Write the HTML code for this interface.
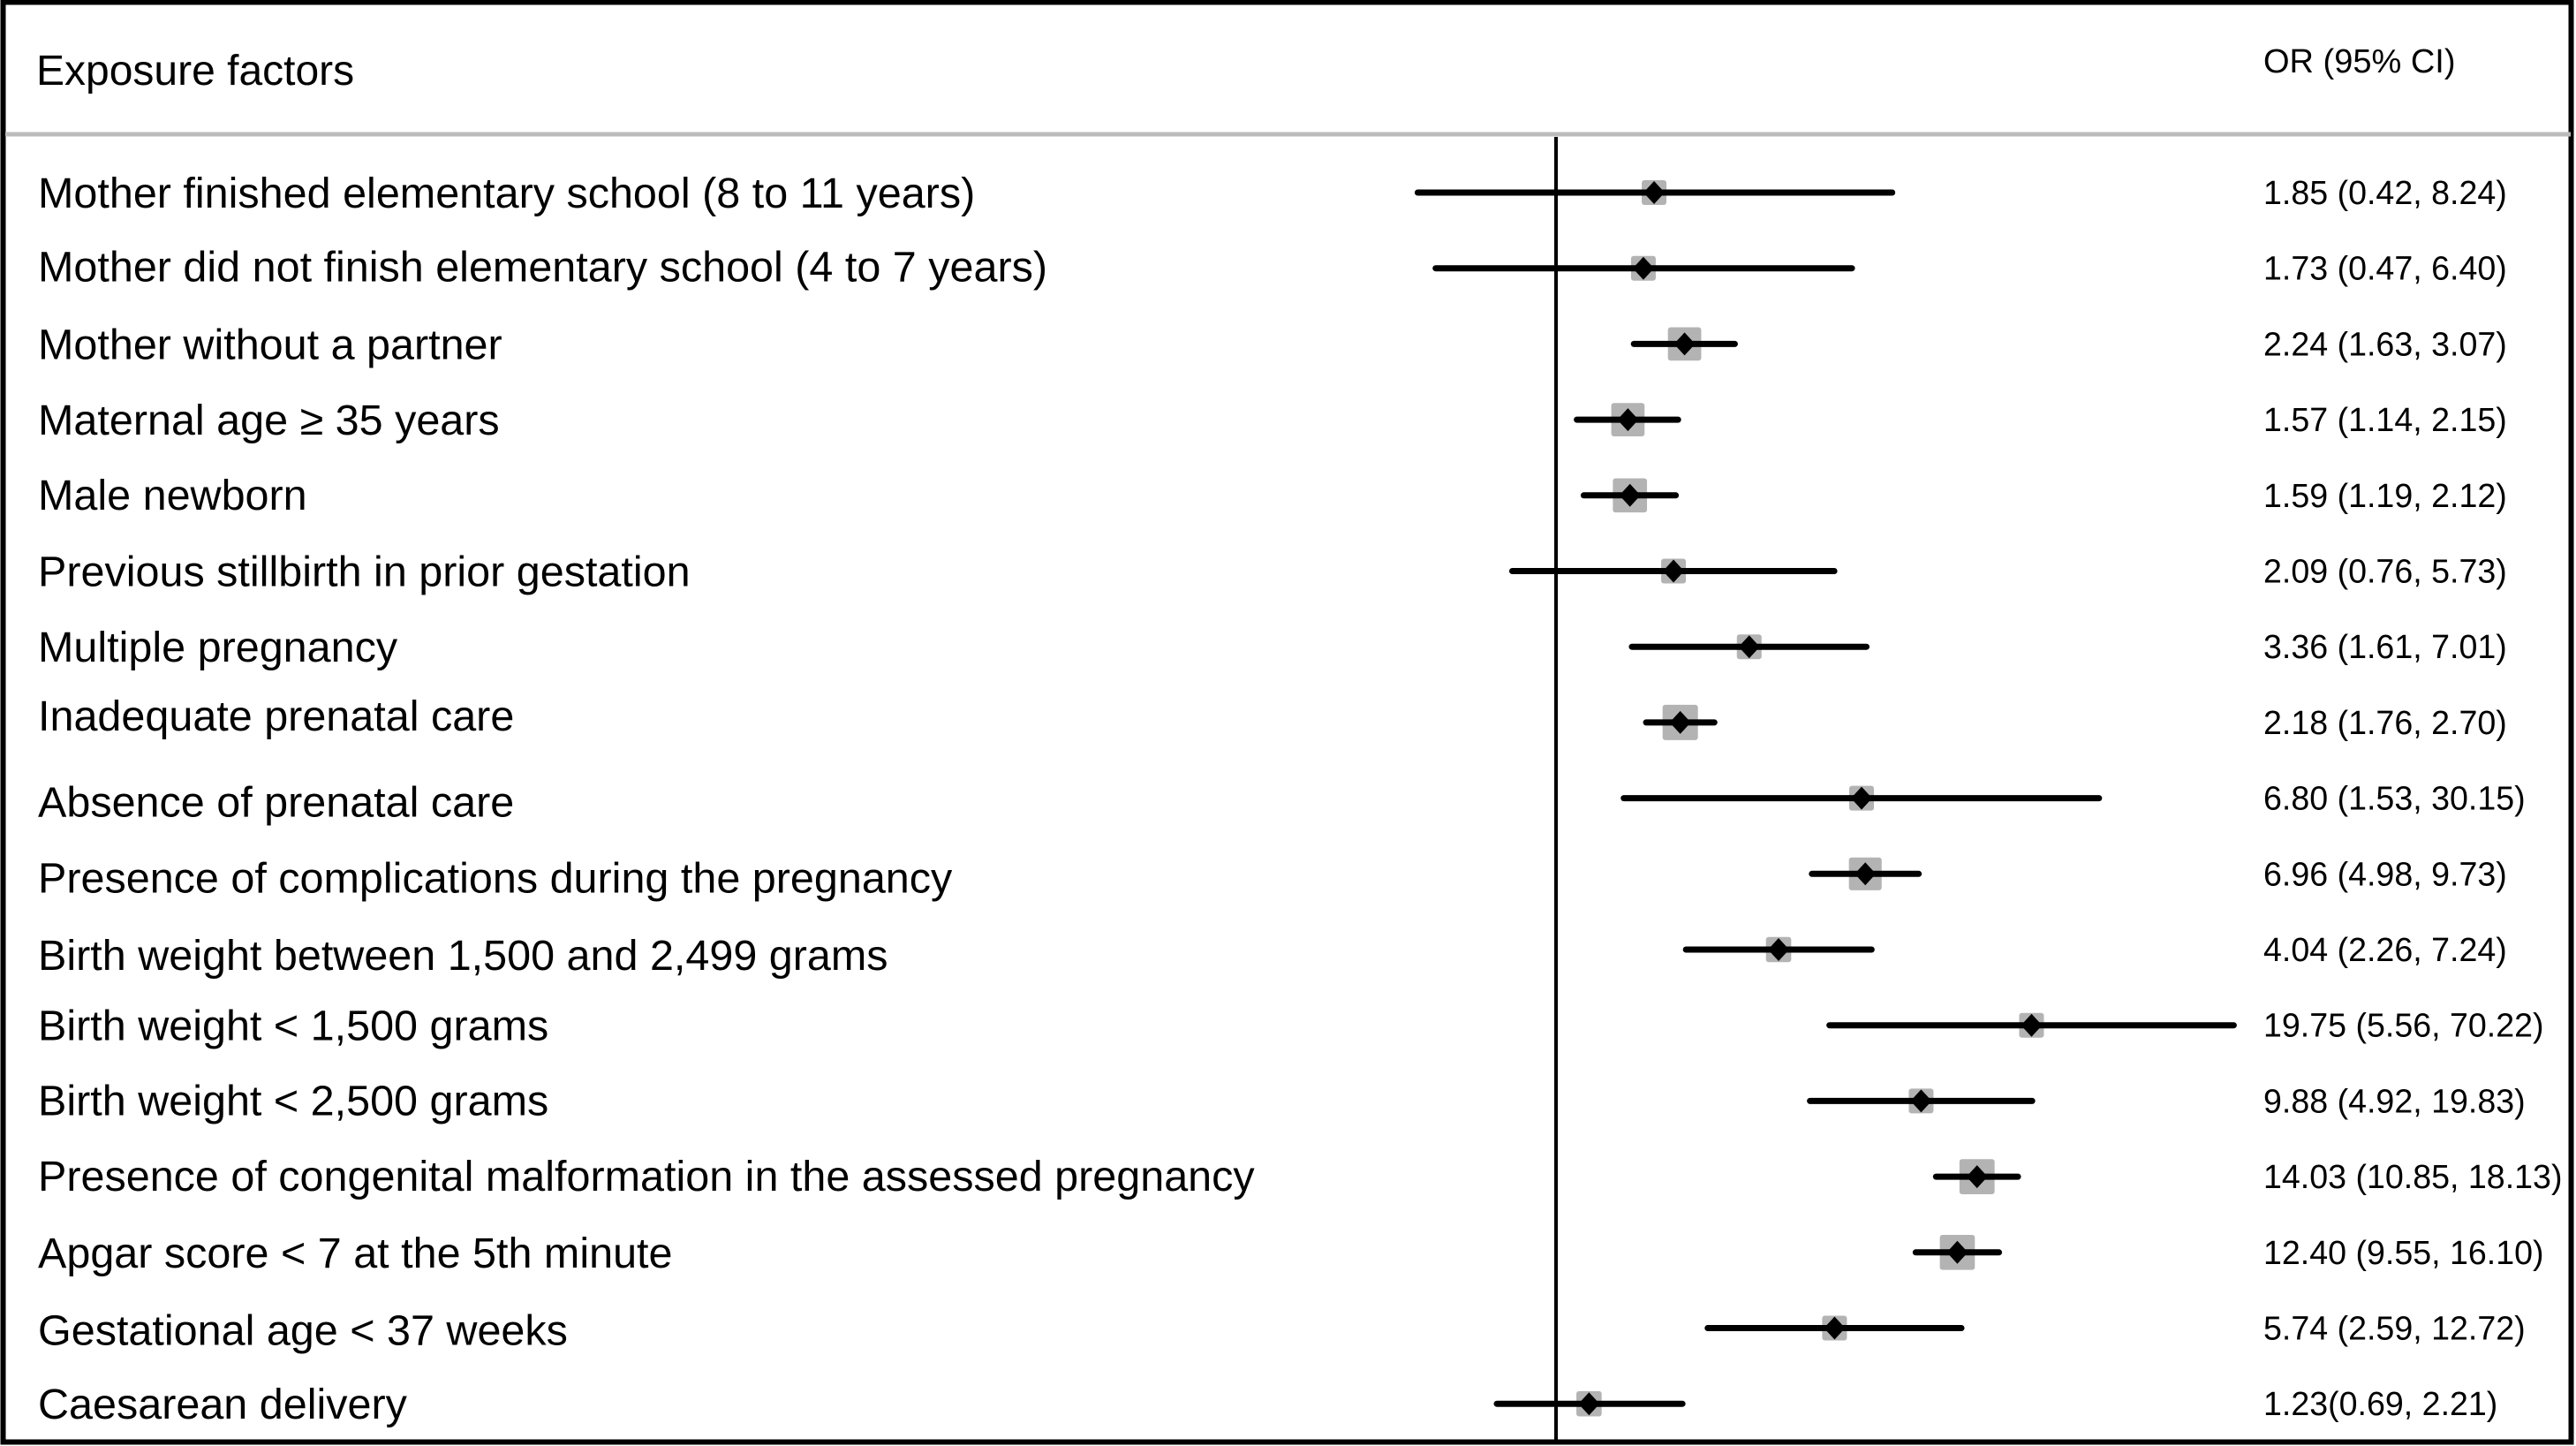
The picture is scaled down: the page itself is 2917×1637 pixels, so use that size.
<!DOCTYPE html>
<html><head><meta charset="utf-8"><style>
html,body{margin:0;padding:0;background:#fff;}
svg{display:block;}
text{font-family:"Liberation Sans",Arial,sans-serif;fill:#000;}
</style></head><body>
<svg id="chart" width="2917" height="1637" viewBox="0 0 2917 1637" xmlns="http://www.w3.org/2000/svg">
<rect x="3.5" y="2.5" width="2908" height="1630" fill="#fff" stroke="#000" stroke-width="6"/>
<line x1="6" y1="152" x2="2911" y2="152" stroke="#bbb" stroke-width="5"/>
<text x="41" y="96" font-size="48">Exposure factors</text>
<text x="2563" y="82" font-size="38">OR (95% CI)</text>
<g id="marks"></g>
</svg>
<script>
const labels=["Mother finished elementary school (8 to 11 years)","Mother did not finish elementary school (4 to 7 years)","Mother without a partner","Maternal age \u2265 35 years","Male newborn","Previous stillbirth in prior gestation","Multiple pregnancy","Inadequate prenatal care","Absence of prenatal care","Presence of complications during the pregnancy","Birth weight between 1,500 and 2,499 grams","Birth weight < 1,500 grams","Birth weight < 2,500 grams","Presence of congenital malformation in the assessed pregnancy","Apgar score < 7 at the 5th minute","Gestational age < 37 weeks","Caesarean delivery"];
const orValues=[1.85,1.73,2.24,1.57,1.59,2.09,3.36,2.18,6.80,6.96,4.04,19.75,9.88,14.03,12.40,5.74,1.23];
const ciLow=[0.42,0.47,1.63,1.14,1.19,0.76,1.61,1.76,1.53,4.98,2.26,5.56,4.92,10.85,9.55,2.59,0.69];
const ciHigh=[8.24,6.40,3.07,2.15,2.12,5.73,7.01,2.70,30.15,9.73,7.24,70.22,19.83,18.13,16.10,12.72,2.21];
const ciText=["1.85 (0.42, 8.24)","1.73 (0.47, 6.40)","2.24 (1.63, 3.07)","1.57 (1.14, 2.15)","1.59 (1.19, 2.12)","2.09 (0.76, 5.73)","3.36 (1.61, 7.01)","2.18 (1.76, 2.70)","6.80 (1.53, 30.15)","6.96 (4.98, 9.73)","4.04 (2.26, 7.24)","19.75 (5.56, 70.22)","9.88 (4.92, 19.83)","14.03 (10.85, 18.13)","12.40 (9.55, 16.10)","5.74 (2.59, 12.72)","1.23(0.69, 2.21)"];
const X0=1762,K=180.5;
function xs(v){return X0+K*Math.log(v);}
const rowY0=218,rowStep=85.7;
function ys(i){return rowY0+i*rowStep;}
const labelShift=[0,-2,0,0,-1,0,0,-8,4,4,6,0,-1,-1,0,2,0];
const NS="http://www.w3.org/2000/svg";
const g=document.getElementById('marks');
function mk(t,a){const e=document.createElementNS(NS,t);for(const k in a)e.setAttribute(k,a[k]);g.appendChild(e);return e;}
const ref=mk('line',{x1:X0,y1:155,x2:X0,y2:1632,stroke:'#000','stroke-width':4});


labels.forEach((lab,i)=>{
  const y=ys(i);
  const t=mk('text',{x:43,y:y+17+labelShift[i],'font-size':48.5});
  t.textContent=lab;
  
  
  const lw=Math.log(ciHigh[i]/ciLow[i]);
  const sz=Math.max(28,Math.min(40,28+12*(1.2-lw)/0.7));
  const box=mk('rect',{x:xs(orValues[i])-sz/2,y:y-sz/2,width:sz,height:sz,fill:'#b3b3b3',rx:3});
  
  
  const ln=mk('line',{x1:xs(ciLow[i]),y1:y,x2:xs(ciHigh[i]),y2:y,stroke:'#000','stroke-width':7,'stroke-linecap':'round'});
  
  
  const cx=xs(orValues[i]);
  const d=mk('polygon',{points:`${cx-12},${y} ${cx},${y-13} ${cx+12},${y} ${cx},${y+13}`,fill:'#000'});
  
  
  const v=mk('text',{x:2563,y:y+13,'font-size':37.6});
  v.textContent=ciText[i];
  
  
});
</script>
</body></html>
